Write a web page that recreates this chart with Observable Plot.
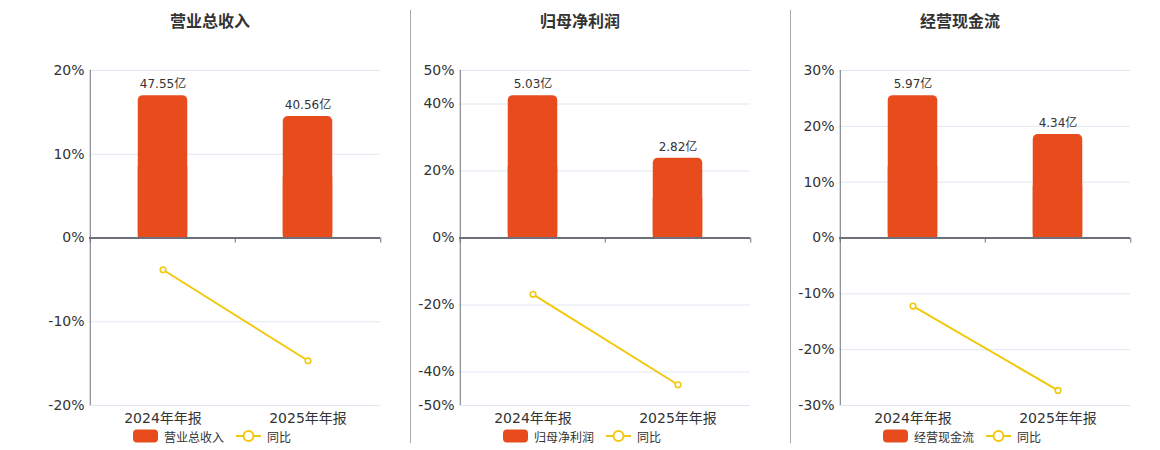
<!DOCTYPE html>
<html><head><meta charset="utf-8">
<script src="https://cdn.jsdelivr.net/npm/d3@7"></script>
<script src="https://cdn.jsdelivr.net/npm/@observablehq/plot@0.6"></script>
<style>
body{margin:0;background:#fff}
#root{position:relative;width:1160px;height:450px;overflow:hidden;font-family:"DejaVu Sans","Noto Sans CJK SC",sans-serif;color:#333}
.title{position:absolute;top:12px;width:240px;text-align:center;font-size:16px;font-weight:bold;line-height:20px;color:#333}
.legend{position:absolute;top:428px;width:240px;height:16px;display:flex;justify-content:center;align-items:center;font-size:12px;color:#333}
.legend span{margin:0 12px 0 6px}
.legend span:last-child{margin-right:0}
.divider{position:absolute;top:10px;width:1px;height:433px;background:#aaa}
svg.plot{position:absolute;top:0}
</style>
</head><body><div id="root"></div>
<script>
const periods = ["2024年年报", "2025年年报"];
const titles = ["营业总收入", "归母净利润", "经营现金流"];
const amounts = [[47.55, 40.56], [5.03, 2.82], [5.97, 4.34]];
const yoy = [[-3.79, -14.66], [-16.8, -43.8], [-12.2, -27.3]];
const yDomains = [[-20, 20], [-50, 50], [-30, 30]];
const yTicks = [[-20, -10, 0, 10, 20], [-50, -40, -20, 0, 20, 40, 50], [-30, -20, -10, 0, 10, 20, 30]];
const unit = "亿";
const yoyLabel = "同比";

const barColor = "#E84C1D";
const lineColor = "#F2C80F";
const axisColor = "#6E7079";
const gridColor = "#E0E6F1";
const plotLefts = [89, 459, 839];
const plotW = 291, mL = 60, mR = 30;
const bw = plotW / periods.length;
const barW = 50;
const font = '"DejaVu Sans","Noto Sans CJK SC",sans-serif';

const root = document.getElementById("root");

titles.forEach((title, k) => {
  const data = periods.map((p, i) => ({period: p, amount: amounts[k][i], yoy: yoy[k][i]}));
  const maxA = d3.max(amounts[k]);
  const barTop = 0.85 * yDomains[k][1];
  const bh = d => d.amount / maxA * barTop;

  const chart = Plot.plot({
    width: mL + plotW + mR,
    height: 450,
    marginLeft: mL,
    marginRight: mR,
    marginTop: 70,
    marginBottom: 45,
    style: {fontFamily: font, background: "transparent", overflow: "visible"},
    x: {type: "band", domain: periods, padding: 0},
    y: {domain: yDomains[k]},
    marks: [
      Plot.gridY(yTicks[k], {stroke: gridColor, strokeOpacity: 1}),
      Plot.barY(data, {x: "period", y1: 0, y2: bh, fill: barColor, rx: 5, insetLeft: (bw - barW) / 2, insetRight: (bw - barW) / 2}),
      Plot.barY(data, {x: "period", y1: 0, y2: d => bh(d) / 2, fill: barColor, insetLeft: (bw - barW) / 2, insetRight: (bw - barW) / 2}),
      Plot.text(data, {x: "period", y: bh, text: d => d.amount.toFixed(2) + unit, dy: -11, fontSize: 12, fill: "#333"}),
      Plot.ruleX([periods[0]], {x: d => d, dx: -bw / 2, stroke: axisColor, strokeWidth: 1}),
      Plot.ruleY([0], {stroke: axisColor, strokeWidth: 2}),
      Plot.ruleX(periods, {x: d => d, y1: 0, y2: 0, insetTop: 5, dx: -bw / 2, stroke: axisColor}),
      Plot.ruleX(periods.slice(-1), {x: d => d, y1: 0, y2: 0, insetTop: 5, dx: bw / 2, stroke: axisColor}),
      Plot.line(data, {x: "period", y: "yoy", stroke: lineColor, strokeWidth: 2}),
      Plot.dot(data, {x: "period", y: "yoy", r: 2.8, stroke: lineColor, strokeWidth: 1.6, fill: "white"}),
      Plot.axisY({ticks: yTicks[k], tickSize: 0, tickPadding: 5, tickFormat: d => d + "%", fontSize: 14, fill: "#333", label: null}),
      Plot.axisX({tickSize: 0, tickPadding: 8, fontSize: 14, fill: "#333", label: null})
    ]
  });
  chart.classList.add("plot");
  chart.style.left = (plotLefts[k] - mL) + "px";
  root.appendChild(chart);

  const center = plotLefts[k] + 121;
  const t = document.createElement("div");
  t.className = "title";
  t.style.left = (center - 120) + "px";
  t.textContent = title;
  root.appendChild(t);

  const lg = document.createElement("div");
  lg.className = "legend";
  lg.style.left = (center - 118) + "px";
  lg.innerHTML =
    `<svg width="25" height="14"><rect x="0" y="0.5" width="25" height="13" rx="4" fill="${barColor}"/></svg><span>${title}</span>` +
    `<svg width="25" height="14"><line x1="0" x2="25" y1="7" y2="7" stroke="${lineColor}" stroke-width="2"/><circle cx="12.5" cy="7" r="5" fill="white" stroke="${lineColor}" stroke-width="2"/></svg><span>${yoyLabel}</span>`;
  root.appendChild(lg);

  if (k > 0) {
    const dv = document.createElement("div");
    dv.className = "divider";
    dv.style.left = (plotLefts[k] - 49) + "px";
    root.appendChild(dv);
  }
});
</script>
</body></html>
